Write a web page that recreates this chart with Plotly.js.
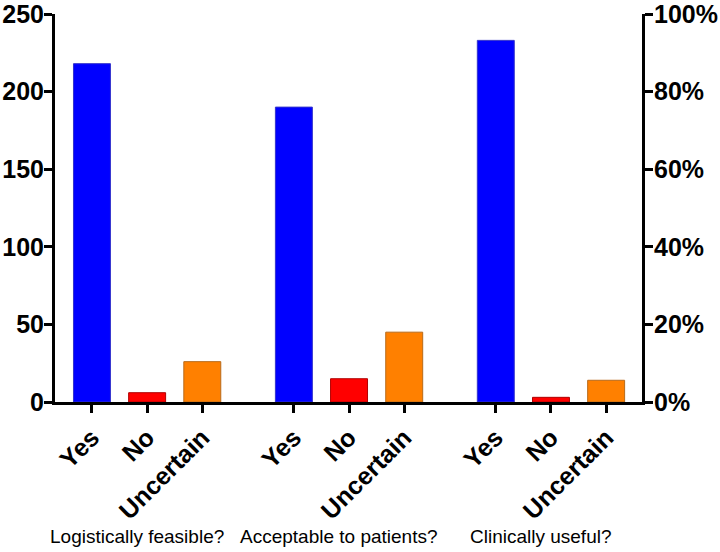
<!DOCTYPE html>
<html>
<head>
<meta charset="utf-8">
<script src="https://cdn.plot.ly/plotly-3.0.1.min.js"></script>
<style>html,body{margin:0;padding:0;background:#fff}#chart{width:720px;height:552px}</style>
</head>
<body>
<div id="chart"></div>
<script>
const groups = ["Logistically feasible?", "Acceptable to patients?", "Clinically useful?"];
const responses = ["Yes", "No", "Uncertain"];
const yesCounts = [218, 190, 233];
const noCounts = [6, 15, 3];
const uncertainCounts = [26, 45, 14];
const totalPerGroup = 250;
const countTicks = [0, 50, 100, 150, 200, 250];
const percentTicks = [0, 20, 40, 60, 80, 100];
const barColors = ["#0000FF", "#FF0000", "#FF8000"];
const lineColors = ["#3333cc", "#b00000", "#b86a1a"];

const seriesValues = [yesCounts, noCounts, uncertainCounts];
const groupStep = responses.length + 0.66;

const traces = responses.map((r, ri) => ({
  type: "bar",
  name: r,
  x: groups.map((g, gi) => gi * groupStep + ri),
  y: seriesValues[ri],
  width: 0.67,
  marker: {color: barColors[ri], line: {color: lineColors[ri], width: 1}},
  showlegend: false,
  hoverinfo: "x+y"
}));

// invisible trace for the percentage axis
traces.push({
  type: "scatter", mode: "markers",
  x: [0], y: [yesCounts[0] / totalPerGroup * 100],
  yaxis: "y2", marker: {opacity: 0}, showlegend: false, hoverinfo: "skip"
});

const tickvals = [], ticktext = [];
groups.forEach((g, gi) => responses.forEach((r, ri) => {
  tickvals.push(gi * groupStep + ri);
  ticktext.push(r);
}));

const tickFont = {family: "Liberation Sans, Arial, sans-serif", size: 25, color: "#000", weight: 700};

const annotations = groups.map((g, gi) => ({
  text: g, xref: "x", yref: "paper",
  x: gi * groupStep + 1, y: -0.346,
  xshift: -10,
  showarrow: false, xanchor: "center", yanchor: "middle",
  font: {family: "Liberation Sans, Arial, sans-serif", size: 19, color: "#000"}
}));

const layout = {
  width: 720, height: 552,
  margin: {l: 55, r: 78, t: 14, b: 150},
  paper_bgcolor: "#fff", plot_bgcolor: "#fff",
  bargap: 0,
  xaxis: {
    range: [-0.67, 2 * groupStep + 2 + 0.65],
    tickvals: tickvals, ticktext: ticktext, tickangle: -45,
    showline: true, linecolor: "#000", linewidth: 3,
    ticks: "outside", ticklen: 8, tickwidth: 3, tickcolor: "#000",
    showgrid: false, zeroline: false,
    tickfont: {family: "Liberation Sans, Arial, sans-serif", size: 25, color: "#000", weight: 700}
  },
  yaxis: {
    range: [0, 250], tickvals: countTicks, ticktext: countTicks.map(String),
    showline: true, linecolor: "#000", linewidth: 3,
    ticks: "outside", ticklen: 8, tickwidth: 3, tickcolor: "#000",
    ticklabelstandoff: -5, ticklabeloverflow: "allow",
    showgrid: false, zeroline: false, tickfont: tickFont
  },
  yaxis2: {
    overlaying: "y", side: "right", anchor: "x",
    range: [0, 100], tickvals: percentTicks, ticktext: percentTicks.map(v => v + "%"),
    showline: true, linecolor: "#000", linewidth: 3,
    ticks: "outside", ticklen: 8, tickwidth: 3, tickcolor: "#000",
    ticklabelstandoff: -4, ticklabeloverflow: "allow",
    showgrid: false, zeroline: false, tickfont: tickFont
  },
  annotations: annotations
};

Plotly.newPlot("chart", traces, layout, {displayModeBar: false, staticPlot: true});
</script>
</body>
</html>
